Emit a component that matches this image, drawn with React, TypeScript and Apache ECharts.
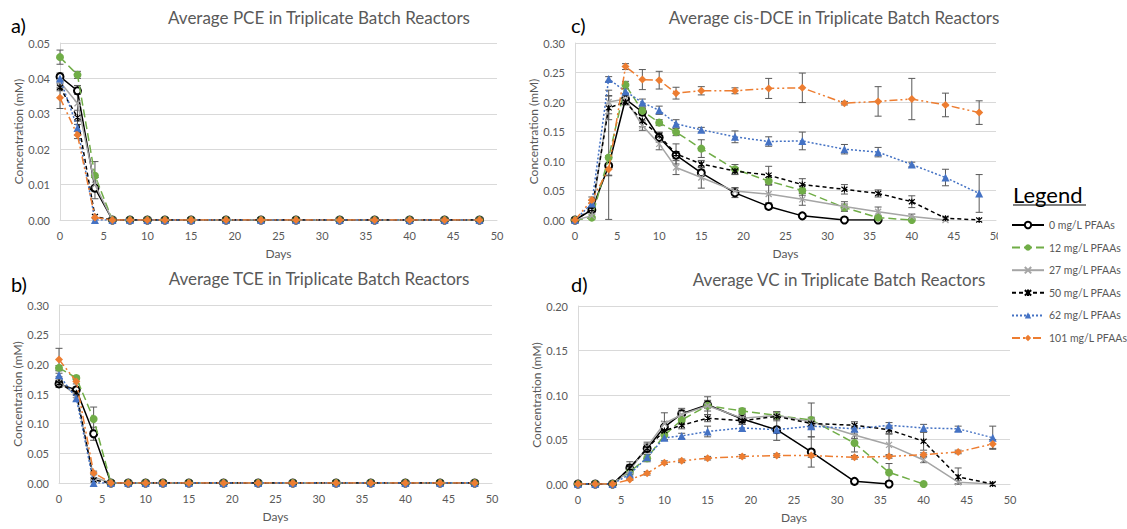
import React, { useEffect, useRef } from "react";
import * as echarts from "echarts";

// ---------- data ----------
const days = [0, 2, 4, 6, 8, 10, 12, 15, 19, 23, 27, 32, 36, 40, 44, 48];
const seriesNames = [
  "0 mg/L PFAAs",
  "12 mg/L PFAAs",
  "27 mg/L PFAAs",
  "50 mg/L PFAAs",
  "62 mg/L PFAAs",
  "101 mg/L PFAAs",
];
const panelTitles = [
  "Average PCE in Triplicate Batch Reactors",
  "Average TCE in Triplicate Batch Reactors",
  "Average cis-DCE in Triplicate Batch Reactors",
  "Average VC in Triplicate Batch Reactors",
];
const panelLetters = ["a)", "b)", "c)", "d)"];
const yMax = [0.05, 0.3, 0.3, 0.2];
const yStep = [0.01, 0.05, 0.05, 0.05];

// PCE
const pce0 = [0.0405, 0.0365, 0.009, 0, 0, 0, 0, 0, 0, 0, 0, 0, 0, 0, 0, 0];
const pce12 = [0.046, 0.041, 0.0125, 0, 0, 0, 0, 0, 0, 0, 0, 0, 0, 0, 0, 0];
const pce27 = [0.039, 0.033, 0.01, 0, 0, 0, 0, 0, 0, 0, 0, 0, 0, 0, 0, 0];
const pce50 = [0.0375, 0.029, 0.001, 0, 0, 0, 0, 0, 0, 0, 0, 0, 0, 0, 0, 0];
const pce62 = [0.04, 0.026, 0, 0, 0, 0, 0, 0, 0, 0, 0, 0, 0, 0, 0, 0];
const pce101 = [0.0345, 0.024, 0.0007, 0, 0, 0, 0, 0, 0, 0, 0, 0, 0, 0, 0, 0];
const pce0Err = [0.001, 0.001, 0.003, 0, 0, 0, 0, 0, 0, 0, 0, 0, 0, 0, 0, 0];
const pce12Err = [0.002, 0.001, 0.004, 0, 0, 0, 0, 0, 0, 0, 0, 0, 0, 0, 0, 0];
const pce27Err = [0.002, 0.005, 0.002, 0, 0, 0, 0, 0, 0, 0, 0, 0, 0, 0, 0, 0];
const pce50Err = [0.001, 0.002, 0, 0, 0, 0, 0, 0, 0, 0, 0, 0, 0, 0, 0, 0];
const pce62Err = [0.001, 0.002, 0, 0, 0, 0, 0, 0, 0, 0, 0, 0, 0, 0, 0, 0];
const pce101Err = [0.003, 0.001, 0, 0, 0, 0, 0, 0, 0, 0, 0, 0, 0, 0, 0, 0];

// TCE
const tce0 = [0.167, 0.157, 0.083, 0, 0, 0, 0, 0, 0, 0, 0, 0, 0, 0, 0, 0];
const tce12 = [0.194, 0.177, 0.108, 0, 0, 0, 0, 0, 0, 0, 0, 0, 0, 0, 0, 0];
const tce27 = [0.17, 0.148, 0.01, 0, 0, 0, 0, 0, 0, 0, 0, 0, 0, 0, 0, 0];
const tce50 = [0.168, 0.152, 0.005, 0, 0, 0, 0, 0, 0, 0, 0, 0, 0, 0, 0, 0];
const tce62 = [0.182, 0.143, 0, 0, 0, 0, 0, 0, 0, 0, 0, 0, 0, 0, 0, 0];
const tce101 = [0.208, 0.171, 0.017, 0, 0, 0, 0, 0, 0, 0, 0, 0, 0, 0, 0, 0];
const tce0Err = [0.006, 0.005, 0.011, 0, 0, 0, 0, 0, 0, 0, 0, 0, 0, 0, 0, 0];
const tce12Err = [0.004, 0.003, 0.02, 0, 0, 0, 0, 0, 0, 0, 0, 0, 0, 0, 0, 0];
const tce27Err = [0.003, 0.004, 0.005, 0, 0, 0, 0, 0, 0, 0, 0, 0, 0, 0, 0, 0];
const tce50Err = [0.004, 0.004, 0, 0, 0, 0, 0, 0, 0, 0, 0, 0, 0, 0, 0, 0];
const tce62Err = [0.003, 0.005, 0, 0, 0, 0, 0, 0, 0, 0, 0, 0, 0, 0, 0, 0];
const tce101Err = [0.019, 0.004, 0.003, 0, 0, 0, 0, 0, 0, 0, 0, 0, 0, 0, 0, 0];

// cis-DCE
const dce0 = [0, 0.017, 0.092, 0.205, 0.183, 0.14, 0.11, 0.08, 0.046, 0.023, 0.007, 0, 0, null, null, null];
const dce12 = [0, 0.004, 0.106, 0.229, 0.185, 0.165, 0.149, 0.121, 0.086, 0.066, 0.05, 0.021, 0.004, 0, null, null];
const dce27 = [0, 0.007, 0.2, 0.205, 0.16, 0.129, 0.089, 0.072, 0.049, 0.044, 0.035, 0.023, 0.014, 0.006, 0, null];
const dce50 = [0, 0.018, 0.19, 0.2, 0.168, 0.143, 0.112, 0.095, 0.083, 0.076, 0.06, 0.052, 0.045, 0.031, 0.003, 0];
const dce62 = [0, 0.028, 0.239, 0.218, 0.199, 0.186, 0.163, 0.153, 0.141, 0.133, 0.134, 0.12, 0.115, 0.094, 0.072, 0.045];
const dce101 = [0, 0.034, 0.086, 0.26, 0.238, 0.237, 0.215, 0.219, 0.219, 0.223, 0.224, 0.198, 0.201, 0.205, 0.195, 0.182];
const dce0Err = [0, 0.004, 0.017, 0.005, 0.006, 0.008, 0.006, 0.006, 0.008, 0.004, 0.003, 0, 0, 0, 0, 0];
const dce12Err = [0, 0.002, 0.105, 0.006, 0.006, 0.005, 0.006, 0.015, 0.008, 0.006, 0.008, 0.006, 0.003, 0, 0, 0];
const dce27Err = [0, 0.003, 0.02, 0.005, 0.008, 0.01, 0.012, 0.018, 0.006, 0.015, 0.01, 0.008, 0.008, 0.004, 0, 0];
const dce50Err = [0, 0.004, 0.02, 0.005, 0.01, 0.006, 0.017, 0.006, 0.006, 0.015, 0.01, 0.008, 0.006, 0.01, 0.002, 0];
const dce62Err = [0, 0.005, 0.004, 0.004, 0.006, 0.007, 0.007, 0.004, 0.01, 0.008, 0.015, 0.008, 0.008, 0.004, 0.014, 0.032];
const dce101Err = [0, 0.005, 0.01, 0.005, 0.017, 0.015, 0.01, 0.007, 0.005, 0.017, 0.025, 0.003, 0.025, 0.035, 0.02, 0.02];

// VC
const vc0 = [0, 0, 0, 0.018, 0.04, 0.064, 0.079, 0.089, 0.073, 0.061, 0.036, 0.003, 0, null, null, null];
const vc12 = [0, 0, 0, 0.014, 0.029, 0.055, 0.072, 0.088, 0.082, 0.077, 0.072, 0.046, 0.013, 0, null, null];
const vc27 = [0, 0, 0, 0.015, 0.042, 0.068, 0.078, 0.088, 0.074, 0.077, 0.07, 0.055, 0.044, 0.027, 0.002, 0];
const vc50 = [0, 0, 0, 0.018, 0.04, 0.06, 0.066, 0.074, 0.071, 0.076, 0.068, 0.066, 0.061, 0.048, 0.008, 0];
const vc62 = [0, 0, 0, 0.011, 0.03, 0.052, 0.054, 0.059, 0.063, 0.061, 0.065, 0.062, 0.066, 0.063, 0.062, 0.052];
const vc101 = [0, 0, 0, 0.005, 0.012, 0.024, 0.026, 0.029, 0.031, 0.032, 0.032, 0.03, 0.031, 0.033, 0.036, 0.045];
const vc0Err = [0, 0, 0, 0.007, 0.005, 0.006, 0.006, 0.004, 0.004, 0.012, 0.017, 0.002, 0, 0, 0, 0];
const vc12Err = [0, 0, 0, 0.003, 0.004, 0.005, 0.005, 0.006, 0.003, 0.004, 0.019, 0.01, 0.01, 0, 0, 0];
const vc27Err = [0, 0, 0, 0.003, 0.005, 0.012, 0.005, 0.01, 0.004, 0.004, 0.005, 0.004, 0.012, 0.003, 0.002, 0];
const vc50Err = [0, 0, 0, 0.004, 0.004, 0.005, 0.004, 0.004, 0.004, 0.005, 0.004, 0.004, 0.004, 0.01, 0.01, 0];
const vc62Err = [0, 0, 0, 0.002, 0.003, 0.003, 0.003, 0.006, 0.004, 0.003, 0.003, 0.003, 0.003, 0.004, 0.003, 0.013];
const vc101Err = [0, 0, 0, 0.001, 0.002, 0.002, 0.002, 0.002, 0.002, 0.002, 0.002, 0.002, 0.002, 0.002, 0.002, 0.005];

const panelValues = [
  [pce0, pce12, pce27, pce50, pce62, pce101],
  [tce0, tce12, tce27, tce50, tce62, tce101],
  [dce0, dce12, dce27, dce50, dce62, dce101],
  [vc0, vc12, vc27, vc50, vc62, vc101],
];
const panelErrors = [
  [pce0Err, pce12Err, pce27Err, pce50Err, pce62Err, pce101Err],
  [tce0Err, tce12Err, tce27Err, tce50Err, tce62Err, tce101Err],
  [dce0Err, dce12Err, dce27Err, dce50Err, dce62Err, dce101Err],
  [vc0Err, vc12Err, vc27Err, vc50Err, vc62Err, vc101Err],
];

// ---------- styles ----------
const FONT = "Lato, 'Open Sans', sans-serif";
const GRAY_TEXT = "#595959";
const GRID_COLOR = "#d9d9d9";

const seriesStyles = [
  { color: "#000000", symbol: "emptyCircle", size: 7, dash: "solid" as any, border: 1.2 },
  { color: "#70AD47", symbol: "circle", size: 8, dash: [8, 4], border: 0 },
  { color: "#A5A5A5", symbol: "path://M0,0L10,10M10,0L0,10", size: 6, dash: "solid" as any, border: 1.3 },
  { color: "#000000", symbol: "path://M0,0L10,10M10,0L0,10M5,-1L5,11", size: 6, dash: [4, 3], border: 1.2 },
  { color: "#4472C4", symbol: "triangle", size: 8, dash: [2, 2], border: 0 },
  { color: "#ED7D31", symbol: "diamond", size: 8, dash: [8, 3, 2, 3, 2, 3], border: 0 },
];

const grids = [
  { left: 60, top: 43, width: 437, height: 177 },
  { left: 59, top: 305, width: 433, height: 178 },
  { left: 575, top: 43, width: 421, height: 177 },
  { left: 578, top: 306, width: 432, height: 178 },
];

const titlePos = [
  { x: 319, y: 17 },
  { x: 319, y: 278 },
  { x: 834, y: 17 },
  { x: 839, y: 279 },
];
const letterPos = [
  { x: 11, y: 25 },
  { x: 11, y: 284 },
  { x: 571, y: 25 },
  { x: 571, y: 284 },
];

export default function App() {
  const ref = useRef<HTMLDivElement>(null);

  useEffect(() => {
    if (!ref.current) return;
    const chart = echarts.init(ref.current, undefined, { renderer: "svg" });

    const xAxes = grids.map((_, i) => ({
      type: "value",
      gridIndex: i,
      min: 0,
      max: 50,
      interval: 5,
      name: "Days",
      nameLocation: "middle",
      nameGap: 27,
      nameTextStyle: { color: GRAY_TEXT, fontSize: 12, fontFamily: FONT },
      axisLine: { show: true, lineStyle: { color: GRID_COLOR, width: 1 } },
      axisTick: { show: false },
      splitLine: { show: false },
      axisLabel: { color: GRAY_TEXT, fontSize: 11, fontFamily: FONT, margin: 10 },
    }));

    const yAxes = grids.map((_, i) => ({
      type: "value",
      gridIndex: i,
      min: 0,
      max: yMax[i],
      interval: yStep[i],
      name: "Concentration (mM)",
      nameLocation: "middle",
      nameGap: 35,
      nameTextStyle: { color: GRAY_TEXT, fontSize: 12, fontFamily: FONT },
      axisLine: { show: true, lineStyle: { color: GRID_COLOR, width: 1 } },
      axisTick: { show: false },
      splitLine: { show: true, lineStyle: { color: GRID_COLOR, width: 1 } },
      axisLabel: {
        color: GRAY_TEXT,
        fontSize: 11,
        fontFamily: FONT,
        margin: 10,
        formatter: (v: number) => v.toFixed(2),
      },
    }));

    const series: any[] = [];
    panelValues.forEach((vals, p) => {
      const errData: any[] = [];
      vals.forEach((arr, s) => {
        const errs = panelErrors[p][s];
        arr.forEach((v, k) => {
          const e = errs[k];
          if (v !== null && e > 0) {
            errData.push([days[k], Math.max(0, (v as number) - e), (v as number) + e]);
          }
        });
      });
      series.push({
        type: "custom",
        xAxisIndex: p,
        yAxisIndex: p,
        silent: true,
        z: 1,
        encode: { x: 0, y: [1, 2] },
        data: errData,
        renderItem: (_params: any, api: any) => {
          const x = api.value(0);
          const lo = api.coord([x, api.value(1)]);
          const hi = api.coord([x, api.value(2)]);
          const hw = 3.5;
          const style = { stroke: "#595959", lineWidth: 1 };
          return {
            type: "group",
            children: [
              { type: "line", shape: { x1: lo[0], y1: lo[1], x2: hi[0], y2: hi[1] }, style },
              { type: "line", shape: { x1: lo[0] - hw, y1: lo[1], x2: lo[0] + hw, y2: lo[1] }, style },
              { type: "line", shape: { x1: hi[0] - hw, y1: hi[1], x2: hi[0] + hw, y2: hi[1] }, style },
            ],
          };
        },
      });
      vals.forEach((arr, s) => {
        const st = seriesStyles[s];
        series.push({
          type: "line",
          name: seriesNames[s],
          xAxisIndex: p,
          yAxisIndex: p,
          z: 2 + s,
          data: arr.map((v, k) => [days[k], v]),
          connectNulls: false,
          symbol: st.symbol,
          symbolSize: st.size,
          showAllSymbol: true,
          lineStyle: { color: st.color, width: 1.5, type: st.dash },
          itemStyle: {
            color: st.color,
            borderColor: st.color,
            borderWidth: st.border,
          },
          emphasis: { disabled: true },
        });
      });
    });

    const graphics: any[] = [];
    panelTitles.forEach((t, i) => {
      graphics.push({
        type: "text",
        x: titlePos[i].x,
        y: titlePos[i].y,
        style: {
          text: t,
          fill: GRAY_TEXT,
          fontSize: 17,
          fontFamily: FONT,
          align: "center",
          verticalAlign: "middle",
        },
      });
      graphics.push({
        type: "text",
        x: letterPos[i].x,
        y: letterPos[i].y,
        style: {
          text: panelLetters[i],
          fill: "#000000",
          fontSize: 20,
          fontFamily: FONT,
          align: "left",
          verticalAlign: "middle",
        },
      });
    });
    graphics.push({
      type: "rect",
      z: 50,
      shape: { x: 998, y: 172, width: 129, height: 178 },
      style: { fill: "#ffffff" },
    });
    graphics.push({
      type: "text",
      z: 51,
      x: 1013,
      y: 194,
      style: {
        text: "Legend",
        fill: "#000000",
        fontSize: 22,
        fontFamily: FONT,
        align: "left",
        verticalAlign: "middle",
      },
    });
    graphics.push({
      type: "line",
      z: 51,
      shape: { x1: 1013, y1: 205, x2: 1086, y2: 205 },
      style: { stroke: "#000000", lineWidth: 1.2 },
    });

    chart.setOption({
      animation: false,
      textStyle: { fontFamily: FONT },
      grid: grids,
      xAxis: xAxes,
      yAxis: yAxes,
      series,
      graphic: graphics,
      legend: {
        data: seriesNames,
        orient: "vertical",
        left: 1006,
        top: 213,
        z: 60,
        itemWidth: 32,
        itemHeight: 8,
        itemGap: 8.6,
        selectedMode: false,
        textStyle: { color: GRAY_TEXT, fontSize: 10.5, lineHeight: 14, fontFamily: FONT },
      },
    });

    return () => chart.dispose();
  }, []);

  return (
    <div
      ref={ref}
      style={{ position: "fixed", left: 0, top: 0, width: 1127, height: 529, background: "#ffffff" }}
    />
  );
}
